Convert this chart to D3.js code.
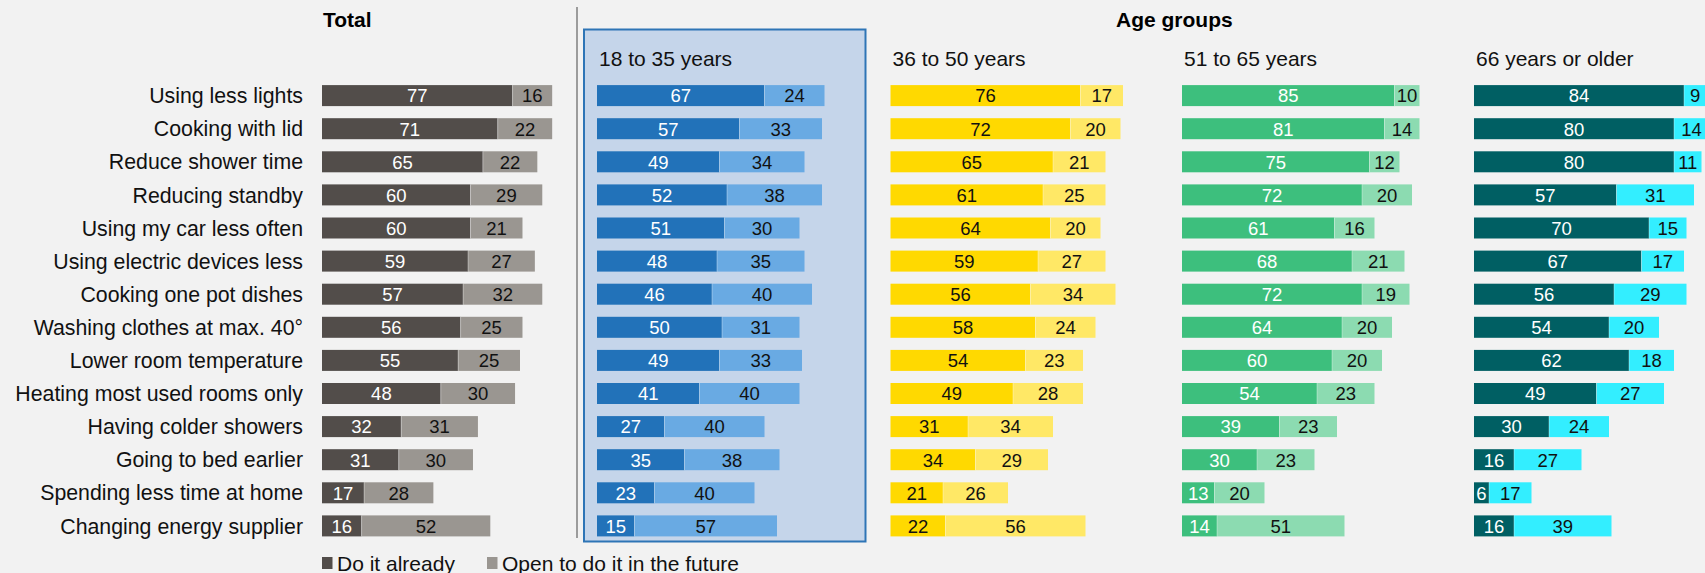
<!DOCTYPE html>
<html>
<head>
<meta charset="utf-8">
<script src="https://cdn.jsdelivr.net/npm/d3@7/dist/d3.min.js"></script>
<style>
  html, body { margin: 0; padding: 0; background: #f2f2f2; }
  svg { display: block; }
  text { font-family: "Liberation Sans", Arial, sans-serif; }
</style>
</head>
<body>
<svg id="chart" width="1705" height="573"></svg>
<script>
const categories = [
  "Using less lights", "Cooking with lid", "Reduce shower time", "Reducing standby",
  "Using my car less often", "Using electric devices less", "Cooking one pot dishes",
  "Washing clothes at max. 40°", "Lower room temperature", "Heating most used rooms only",
  "Having colder showers", "Going to bed earlier", "Spending less time at home",
  "Changing energy supplier"
];
const totalAlready  = [77, 71, 65, 60, 60, 59, 57, 56, 55, 48, 32, 31, 17, 16];
const totalFuture   = [16, 22, 22, 29, 21, 27, 32, 25, 25, 30, 31, 30, 28, 52];
const age1835Already = [67, 57, 49, 52, 51, 48, 46, 50, 49, 41, 27, 35, 23, 15];
const age1835Future  = [24, 33, 34, 38, 30, 35, 40, 31, 33, 40, 40, 38, 40, 57];
const age3650Already = [76, 72, 65, 61, 64, 59, 56, 58, 54, 49, 31, 34, 21, 22];
const age3650Future  = [17, 20, 21, 25, 20, 27, 34, 24, 23, 28, 34, 29, 26, 56];
const age5165Already = [85, 81, 75, 72, 61, 68, 72, 64, 60, 54, 39, 30, 13, 14];
const age5165Future  = [10, 14, 12, 20, 16, 21, 19, 20, 20, 23, 23, 23, 20, 51];
const age66Already   = [84, 80, 80, 57, 70, 67, 56, 54, 62, 49, 30, 16, 6, 16];
const age66Future    = [9, 14, 11, 31, 15, 17, 29, 20, 18, 27, 24, 27, 17, 39];
const panelTitles = ["", "18 to 35 years", "36 to 50 years", "51 to 65 years", "66 years or older"];
const legendLabels = ["Do it already", "Open to do it in the future"];

const panels = [
  { title: panelTitles[0], already: totalAlready, future: totalFuture, x0: 322, w: 247.5,
    c1: "#524d4a", c2: "#9a9691", t1: "#ffffff", t2: "#111111" },
  { title: panelTitles[1], already: age1835Already, future: age1835Future, x0: 597, w: 250,
    c1: "#2272b9", c2: "#69aae3", t1: "#ffffff", t2: "#111111" },
  { title: panelTitles[2], already: age3650Already, future: age3650Future, x0: 890.5, w: 250,
    c1: "#ffd900", c2: "#ffe866", t1: "#111111", t2: "#111111" },
  { title: panelTitles[3], already: age5165Already, future: age5165Future, x0: 1182, w: 250,
    c1: "#3dbf7d", c2: "#8cdbb1", t1: "#ffffff", t2: "#111111" },
  { title: panelTitles[4], already: age66Already, future: age66Future, x0: 1474, w: 250,
    c1: "#005f63", c2: "#33eeff", t1: "#ffffff", t2: "#111111" }
];

const svg = d3.select("#chart");
svg.append("rect").attr("width", 1705).attr("height", 573).attr("fill", "#f2f2f2");

const y = d3.scalePoint().domain(categories).range([95.6, 525.9]);
const barH = 21;

// highlight box for 18-35
svg.append("rect")
  .attr("x", 584).attr("y", 29.5).attr("width", 281.5).attr("height", 512)
  .attr("fill", "#c5d5ea").attr("stroke", "#2e75b6").attr("stroke-width", 2);

// divider
svg.append("line")
  .attr("x1", 577).attr("x2", 577).attr("y1", 7).attr("y2", 538)
  .attr("stroke", "#7f7f7f").attr("stroke-width", 1.5);

// titles
svg.append("text").attr("x", 323).attr("y", 27).attr("font-size", 21).attr("font-weight", "bold")
  .attr("fill", "#000").text("Total");
svg.append("text").attr("x", 1116).attr("y", 27).attr("font-size", 21).attr("font-weight", "bold")
  .attr("fill", "#000").text("Age groups");

// row labels
svg.append("g").selectAll("text").data(categories).join("text")
  .attr("x", 303).attr("y", d => y(d)).attr("dy", "0.36em")
  .attr("text-anchor", "end").attr("font-size", 21.3).attr("fill", "#111")
  .text(d => d);

panels.forEach(p => {
  const x = d3.scaleLinear().domain([0, 100]).range([p.x0, p.x0 + p.w]);
  const g = svg.append("g");
  if (p.title) {
    g.append("text").attr("x", p.x0 + 2).attr("y", 65.5).attr("font-size", 21)
      .attr("fill", "#111").text(p.title);
  }
  const rows = categories.map((c, i) => ({ c, a: p.already[i], f: p.future[i] }));
  g.selectAll("rect.a").data(rows).join("rect").attr("class", "a")
    .attr("x", x(0)).attr("y", d => y(d.c) - barH / 2)
    .attr("width", d => x(d.a) - x(0)).attr("height", barH).attr("fill", p.c1);
  g.selectAll("rect.f").data(rows).join("rect").attr("class", "f")
    .attr("x", d => x(d.a)).attr("y", d => y(d.c) - barH / 2)
    .attr("width", d => x(d.a + d.f) - x(d.a)).attr("height", barH).attr("fill", p.c2);
  g.selectAll("line.sep").data(rows).join("line").attr("class", "sep")
    .attr("x1", d => x(d.a)).attr("x2", d => x(d.a))
    .attr("y1", d => y(d.c) - barH / 2).attr("y2", d => y(d.c) + barH / 2)
    .attr("stroke", "#ffffff").attr("stroke-opacity", 0.35).attr("stroke-width", 1);
  g.selectAll("text.a").data(rows).join("text").attr("class", "a")
    .attr("x", d => (x(0) + x(d.a)) / 2).attr("y", d => y(d.c)).attr("dy", "0.37em")
    .attr("text-anchor", "middle").attr("font-size", 18.5).attr("fill", p.t1)
    .text(d => d.a);
  g.selectAll("text.f").data(rows).join("text").attr("class", "f")
    .attr("x", d => (x(d.a) + x(d.a + d.f)) / 2).attr("y", d => y(d.c)).attr("dy", "0.37em")
    .attr("text-anchor", "middle").attr("font-size", 18.5).attr("fill", p.t2)
    .text(d => d.f);
});

// legend
const legendItems = [
  { label: legendLabels[0], color: panels[0].c1, x: 322 },
  { label: legendLabels[1], color: panels[0].c2, x: 487 }
];
const lg = svg.append("g");
legendItems.forEach(it => {
  lg.append("rect").attr("x", it.x).attr("y", 557).attr("width", 10.5).attr("height", 12)
    .attr("fill", it.color);
  lg.append("text").attr("x", it.x + 15).attr("y", 570.5).attr("font-size", 21)
    .attr("fill", "#111").text(it.label);
});
</script>
</body>
</html>
